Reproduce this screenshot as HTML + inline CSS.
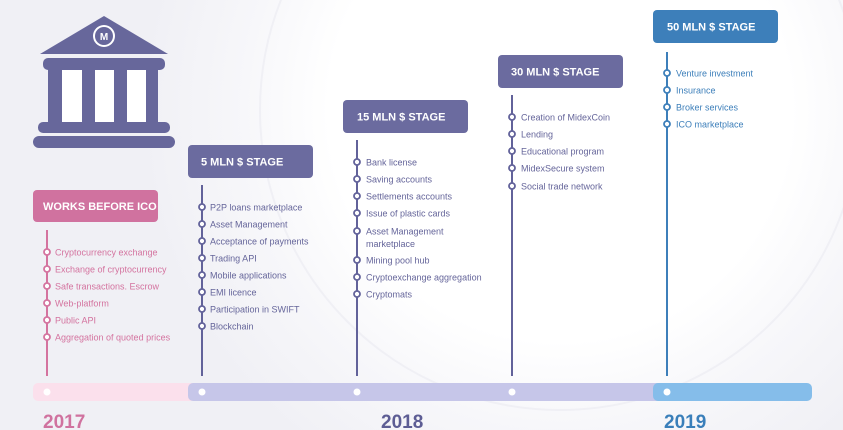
<!DOCTYPE html>
<html><head><meta charset="utf-8"><style>
html,body{margin:0;padding:0;width:843px;height:430px;overflow:hidden;background:#f1f1f6}
svg{display:block}
text{font-family:"Liberation Sans",sans-serif}
</style></head><body>
<svg width="843" height="430" viewBox="0 0 843 430" xmlns="http://www.w3.org/2000/svg">
<defs>
<radialGradient id="bg" cx="560" cy="110" r="420" gradientUnits="userSpaceOnUse">
<stop offset="0" stop-color="#ffffff"/><stop offset="0.55" stop-color="#ffffff"/><stop offset="0.75" stop-color="#f7f7fa"/><stop offset="1" stop-color="#f0f0f5"/>
</radialGradient>
</defs>
<rect width="843" height="430" fill="url(#bg)"/>
<circle cx="560" cy="110" r="300" fill="none" stroke="#f0f0f5" stroke-width="2"/>

<!-- bank -->
<g fill="#67679b">
<polygon points="104,16 40,54 168,54"/>
<rect x="43" y="58" width="122" height="12" rx="5"/>
<rect x="48" y="68" width="14" height="56"/>
<rect x="82" y="68" width="13" height="56"/>
<rect x="114" y="68" width="13" height="56"/>
<rect x="146" y="68" width="12" height="56"/>
<rect x="38" y="122" width="132" height="11" rx="5"/>
<rect x="33" y="136" width="142" height="12" rx="6"/>
</g>
<rect x="62" y="70" width="20" height="52" fill="#fff"/>
<rect x="95" y="70" width="19" height="52" fill="#fff"/>
<rect x="127" y="70" width="19" height="52" fill="#fff"/>
<circle cx="104" cy="36" r="11" fill="#fff"/>
<circle cx="104" cy="36" r="9" fill="#67679b"/>
<text x="104" y="40" font-size="10" font-weight="bold" fill="#fff" text-anchor="middle">M</text>

<!-- timeline bar -->
<rect x="33" y="383" width="170" height="18" rx="5" fill="#fbe0ec"/>
<rect x="188" y="383" width="480" height="18" rx="5" fill="#c6c6e9"/>
<rect x="653" y="383" width="159" height="18" rx="5" fill="#85bdea"/>
<g fill="#fff"><circle cx="47" cy="392" r="3.5"/><circle cx="202" cy="392" r="3.5"/><circle cx="357" cy="392" r="3.5"/><circle cx="512" cy="392" r="3.5"/><circle cx="667" cy="392" r="3.5"/></g>
<text x="43" y="428" font-size="19" font-weight="bold" fill="#d0729f">2017</text>
<text x="381" y="428" font-size="19" font-weight="bold" fill="#5d5d94">2018</text>
<text x="664" y="428" font-size="19" font-weight="bold" fill="#3a7fba">2019</text>

<!-- boxes -->
<rect x="33" y="190" width="125" height="32" rx="4" fill="#d0729f"/>
<text x="43" y="210" font-size="11" font-weight="bold" fill="#fff">WORKS BEFORE ICO</text>
<rect x="188" y="145" width="125" height="33" rx="4" fill="#6b6b9f"/>
<text x="201" y="165.5" font-size="11" font-weight="bold" fill="#fff">5 MLN $ STAGE</text>
<rect x="343" y="100" width="125" height="33" rx="4" fill="#6b6b9f"/>
<text x="357" y="120.5" font-size="11" font-weight="bold" fill="#fff">15 MLN $ STAGE</text>
<rect x="498" y="55" width="125" height="33" rx="4" fill="#6b6b9f"/>
<text x="511" y="75.5" font-size="11" font-weight="bold" fill="#fff">30 MLN $ STAGE</text>
<rect x="653" y="10" width="125" height="33" rx="4" fill="#3d7fba"/>
<text x="667" y="30.5" font-size="11" font-weight="bold" fill="#fff">50 MLN $ STAGE</text>

<!-- lines -->
<line x1="47" y1="230" x2="47" y2="376" stroke="#d4739f" stroke-width="2"/>
<line x1="202" y1="185" x2="202" y2="376" stroke="#62629a" stroke-width="2"/>
<line x1="357" y1="140" x2="357" y2="376" stroke="#62629a" stroke-width="2"/>
<line x1="512" y1="95" x2="512" y2="376" stroke="#62629a" stroke-width="2"/>
<line x1="667" y1="52" x2="667" y2="376" stroke="#3d7fba" stroke-width="2"/>

<g font-size="9" fill="#d4739f">
<g fill="#fff" stroke="#d4739f" stroke-width="1.8">
<circle cx="47" cy="252" r="3"/><circle cx="47" cy="269" r="3"/><circle cx="47" cy="286" r="3"/><circle cx="47" cy="303" r="3"/><circle cx="47" cy="320" r="3"/><circle cx="47" cy="337" r="3"/></g>
<text x="55" y="255.5">Cryptocurrency exchange</text>
<text x="55" y="272.5">Exchange of cryptocurrency</text>
<text x="55" y="289.5">Safe transactions. Escrow</text>
<text x="55" y="306.5">Web-platform</text>
<text x="55" y="323.5">Public API</text>
<text x="55" y="340.5">Aggregation of quoted prices</text>
</g>

<g font-size="9" fill="#65659a">
<g fill="#fff" stroke="#62629a" stroke-width="1.8">
<circle cx="202" cy="207" r="3"/><circle cx="202" cy="224" r="3"/><circle cx="202" cy="241" r="3"/><circle cx="202" cy="258" r="3"/><circle cx="202" cy="275" r="3"/><circle cx="202" cy="292" r="3"/><circle cx="202" cy="309" r="3"/><circle cx="202" cy="326" r="3"/></g>
<text x="210" y="210.5">P2P loans marketplace</text>
<text x="210" y="227.5">Asset Management</text>
<text x="210" y="244.5">Acceptance of payments</text>
<text x="210" y="261.5">Trading API</text>
<text x="210" y="278.5">Mobile applications</text>
<text x="210" y="295.5">EMI licence</text>
<text x="210" y="312.5">Participation in SWIFT</text>
<text x="210" y="329.5">Blockchain</text>

<g fill="#fff" stroke="#62629a" stroke-width="1.8">
<circle cx="357" cy="162" r="3"/><circle cx="357" cy="179" r="3"/><circle cx="357" cy="196" r="3"/><circle cx="357" cy="213" r="3"/><circle cx="357" cy="231" r="3"/><circle cx="357" cy="260" r="3"/><circle cx="357" cy="277" r="3"/><circle cx="357" cy="294" r="3"/></g>
<text x="366" y="165.5">Bank license</text>
<text x="366" y="182.5">Saving accounts</text>
<text x="366" y="199.5">Settlements accounts</text>
<text x="366" y="216.5">Issue of plastic cards</text>
<text x="366" y="234.5">Asset Management</text>
<text x="366" y="247">marketplace</text>
<text x="366" y="263.5">Mining pool hub</text>
<text x="366" y="280.5">Cryptoexchange aggregation</text>
<text x="366" y="297.5">Cryptomats</text>

<g fill="#fff" stroke="#62629a" stroke-width="1.8">
<circle cx="512" cy="117" r="3"/><circle cx="512" cy="134" r="3"/><circle cx="512" cy="151" r="3"/><circle cx="512" cy="168" r="3"/><circle cx="512" cy="186" r="3"/></g>
<text x="521" y="120.5">Creation of MidexCoin</text>
<text x="521" y="137.5">Lending</text>
<text x="521" y="154.5">Educational program</text>
<text x="521" y="171.5">MidexSecure system</text>
<text x="521" y="189.5">Social trade network</text>
</g>

<g font-size="9" fill="#3d7fba">
<g fill="#fff" stroke="#3d7fba" stroke-width="1.8">
<circle cx="667" cy="73" r="3"/><circle cx="667" cy="90" r="3"/><circle cx="667" cy="107" r="3"/><circle cx="667" cy="124" r="3"/></g>
<text x="676" y="76.5">Venture investment</text>
<text x="676" y="93.5">Insurance</text>
<text x="676" y="110.5">Broker services</text>
<text x="676" y="127.5">ICO marketplace</text>
</g>
</svg>
</body></html>
